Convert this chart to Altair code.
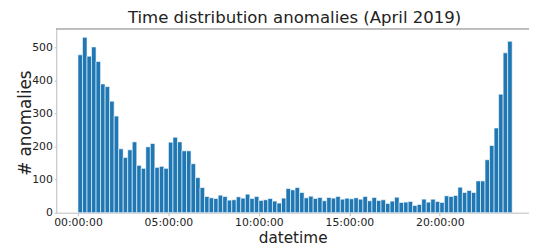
import altair as alt
import pandas as pd

counts = [477, 530, 473, 501, 457, 389, 381, 337, 292, 193,
          167, 190, 214, 143, 134, 199, 209, 137, 140, 134,
          213, 228, 214, 187, 187, 148, 106, 76, 49, 45,
          43, 53, 49, 38, 39, 48, 44, 56, 43, 49,
          37, 39, 43, 35, 29, 44, 73, 69, 76, 61,
          45, 50, 43, 46, 36, 46, 44, 49, 41, 44,
          42, 45, 41, 49, 36, 46, 37, 39, 28, 35,
          47, 31, 32, 34, 22, 25, 41, 32, 41, 34,
          31, 51, 49, 52, 77, 61, 67, 61, 96, 96,
          160, 203, 256, 358, 483, 518]
bin_hours = 0.25
tick_hours = [0, 5, 10, 15, 20]

df = pd.DataFrame({
    "start": [i * bin_hours for i in range(len(counts))],
    "end": [(i + 1) * bin_hours for i in range(len(counts))],
    "count": counts,
})

FONT = "DejaVu Sans"
W, H = 480, 187

bars = alt.Chart(df).mark_bar(color="#1f77b4", stroke="white", strokeWidth=0.6).encode(
    x=alt.X("start:Q",
            scale=alt.Scale(domain=[-1.2, 24.93], nice=False, zero=False),
            axis=alt.Axis(values=tick_hours,
                          labelExpr="(datum.value < 10 ? '0' : '') + datum.value + ':00:00'",
                          title="datetime", titleFontSize=15.5, titleFontWeight="normal",
                          titleBaseline="alphabetic", titleY=30,
                          labelFontSize=11, labelPadding=1, tickSize=3,
                          domainColor="#bbbbbb", tickColor="#bbbbbb", grid=False,
                          labelColor="#222222", titleColor="#222222")),
    x2="end:Q",
    y=alt.Y("count:Q",
            scale=alt.Scale(domain=[0, 556.5], nice=False),
            axis=alt.Axis(values=[0, 100, 200, 300, 400, 500],
                          title="# anomalies", titleFontSize=17, titleFontWeight="normal",
                          titleAngle=-90, titleBaseline="alphabetic", titleX=-26, titleY=95.5,
                          titleAlign="center",
                          labelFontSize=11, labelPadding=2, tickSize=2,
                          domainColor="#bbbbbb", tickColor="#bbbbbb", grid=False,
                          labelColor="#222222", titleColor="#222222")),
    y2=alt.datum(0),
)

top_line = alt.Chart(df).mark_rule(color="#bbbbbb", strokeWidth=1).encode(
    x=alt.value(0), x2=alt.value(W), y=alt.value(0)
)

chart = alt.layer(bars, top_line).properties(
    width=W, height=H,
    title=alt.TitleParams("Time distribution anomalies (April 2019)", fontSize=16.8,
                          font=FONT, fontWeight="normal", color="#222222",
                          offset=1.5, dx=2),
    autosize=alt.AutoSizeParams(type="none"),
    padding={"left": 49, "top": 19, "right": 0, "bottom": 34},
).configure_view(stroke=None).configure_axis(labelFont=FONT, titleFont=FONT)

chart.save("out.html", embed_options={"renderer": "svg", "actions": False})
